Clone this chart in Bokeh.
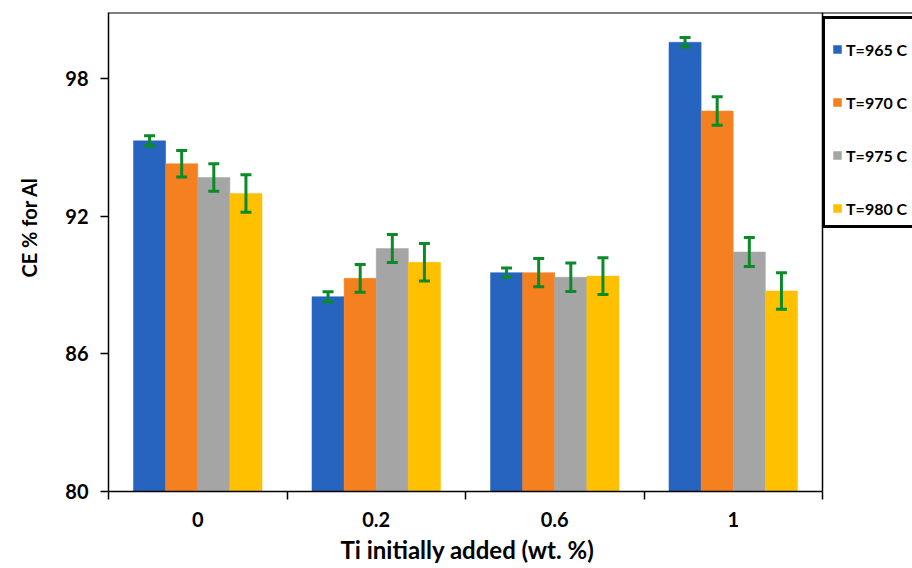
from bokeh.plotting import figure
from bokeh.models import (ColumnDataSource, Range1d, FixedTicker, Whisker, TeeHead,
                          Legend, LegendItem, Title, Span)
from bokeh.transform import dodge
from bokeh.embed import file_html
from bokeh.resources import INLINE

# ---- data ----
ti_labels = ["0", "0.2", "0.6", "1"]
series_names = ["T=965 C", "T=970 C", "T=975 C", "T=980 C"]
ce_965 = [95.3, 88.5, 89.55, 99.6]
ce_970 = [94.3, 89.3, 89.55, 96.6]
ce_975 = [93.7, 90.6, 89.35, 90.45]
ce_980 = [93.0, 90.0, 89.4, 88.75]
err_965 = [0.22, 0.22, 0.20, 0.21]
err_970 = [0.58, 0.61, 0.62, 0.62]
err_975 = [0.60, 0.61, 0.62, 0.63]
err_980 = [0.82, 0.82, 0.80, 0.80]
y_ticks = [80, 86, 92, 98]
y_min, y_max = 80, 100.9

colors = ["#2764c0", "#f58020", "#a5a5a5", "#ffc000"]
offsets = [-0.27, -0.09, 0.09, 0.27]
bar_w = 0.18
FONT = "Lato"
GREEN = "#0b8a28"

n_cat = len(ti_labels)
centers = [i + 0.5 for i in range(n_cat)]
values = [ce_965, ce_970, ce_975, ce_980]
errors = [err_965, err_970, err_975, err_980]

# plot area 108..822 px holds the 4 categories; the frame continues under the legend
FRAME_L, PLOT_R, W = 108, 822, 912
x_end = n_cat * (W - FRAME_L) / (PLOT_R - FRAME_L)

p = figure(width=W, height=568, x_range=Range1d(0, x_end),
           y_range=Range1d(y_min, y_max), output_backend="svg", toolbar_location=None,
           min_border_left=FRAME_L, min_border_right=0, min_border_top=12, min_border_bottom=77)

items = []
for name, vals, errs, col, off in zip(series_names, values, errors, colors, offsets):
    src = ColumnDataSource(dict(x=centers, top=vals,
                                upper=[v + e for v, e in zip(vals, errs)],
                                lower=[v - e for v, e in zip(vals, errs)]))
    r = p.vbar(x=dodge("x", off), top="top", bottom=y_min, width=bar_w, source=src,
               fill_color=col, line_color=col, line_width=0.5)
    w = Whisker(source=src, base=dodge("x", off), upper="upper", lower="lower",
                level="overlay", line_color=GREEN, line_width=3,
                upper_head=TeeHead(size=11, line_color=GREEN, line_width=3),
                lower_head=TeeHead(size=11, line_color=GREEN, line_width=3))
    p.add_layout(w)
    items.append(LegendItem(label=name, renderers=[r]))

# plot box (top and right edges)
p.add_layout(Span(location=y_max, dimension="width", line_color="black", line_width=2))
p.add_layout(Span(location=n_cat, dimension="height", line_color="black", line_width=1.5))

legend = Legend(items=items, location=(PLOT_R - FRAME_L, 263), orientation="vertical",
                glyph_width=10, glyph_height=10, label_height=20, spacing=33,
                padding=7, margin=0, label_standoff=4,
                title=" ", title_text_font_size="1px", title_standoff=12,
                border_line_color="black", border_line_width=3, border_line_alpha=1,
                background_fill_color="white", background_fill_alpha=1,
                label_text_font=FONT, label_text_font_style="bold",
                label_text_font_size="16px", label_text_color="black")
p.add_layout(legend, "center")

p.grid.visible = False
p.outline_line_color = None
p.background_fill_color = "white"
p.border_fill_color = "white"

# x axis: labels at category centers, ticks at boundaries
xa = p.xaxis[0]
xa.bounds = (0, n_cat)
xa.ticker = FixedTicker(ticks=centers, minor_ticks=list(range(n_cat + 1)))
xa.major_label_overrides = {c: lab for c, lab in zip(centers, ti_labels)}
xa.major_tick_out = 0
xa.major_tick_in = 0
xa.minor_tick_out = 8
xa.minor_tick_in = 0
xa.minor_tick_line_color = "black"
xa.minor_tick_line_width = 1.5
xa.axis_line_color = "black"
xa.axis_line_width = 1.5
xa.major_label_standoff = 12
xa.major_label_text_font = FONT
xa.major_label_text_font_style = "bold"
xa.major_label_text_font_size = "20px"
xa.major_label_text_color = "black"

xtitle = Title(text="Ti initially added (wt. %)", align="left", offset=232, standoff=6,
               text_font=FONT, text_font_style="bold", text_font_size="24px",
               text_color="black")
p.add_layout(xtitle, "below")

ya = p.yaxis[0]
ya.ticker = FixedTicker(ticks=y_ticks, minor_ticks=[])
ya.major_tick_out = 8
ya.major_tick_in = 0
ya.major_tick_line_width = 1.5
ya.axis_line_width = 1.5
ya.axis_line_color = "black"
ya.major_label_standoff = 12
ya.major_label_text_font = FONT
ya.major_label_text_font_style = "bold"
ya.major_label_text_font_size = "20px"
ya.major_label_text_color = "black"

# spacer between the tick labels and the y title
p.add_layout(Title(text=" ", text_font_size="1px", standoff=19), "left")
ytitle = Title(text="CE % for Al", align="left", offset=214, standoff=0,
               vertical_align="bottom",
               text_font=FONT, text_font_style="bold", text_font_size="20px",
               text_color="black")
p.add_layout(ytitle, "left")

open("out.html", "w").write(file_html(p, INLINE))
